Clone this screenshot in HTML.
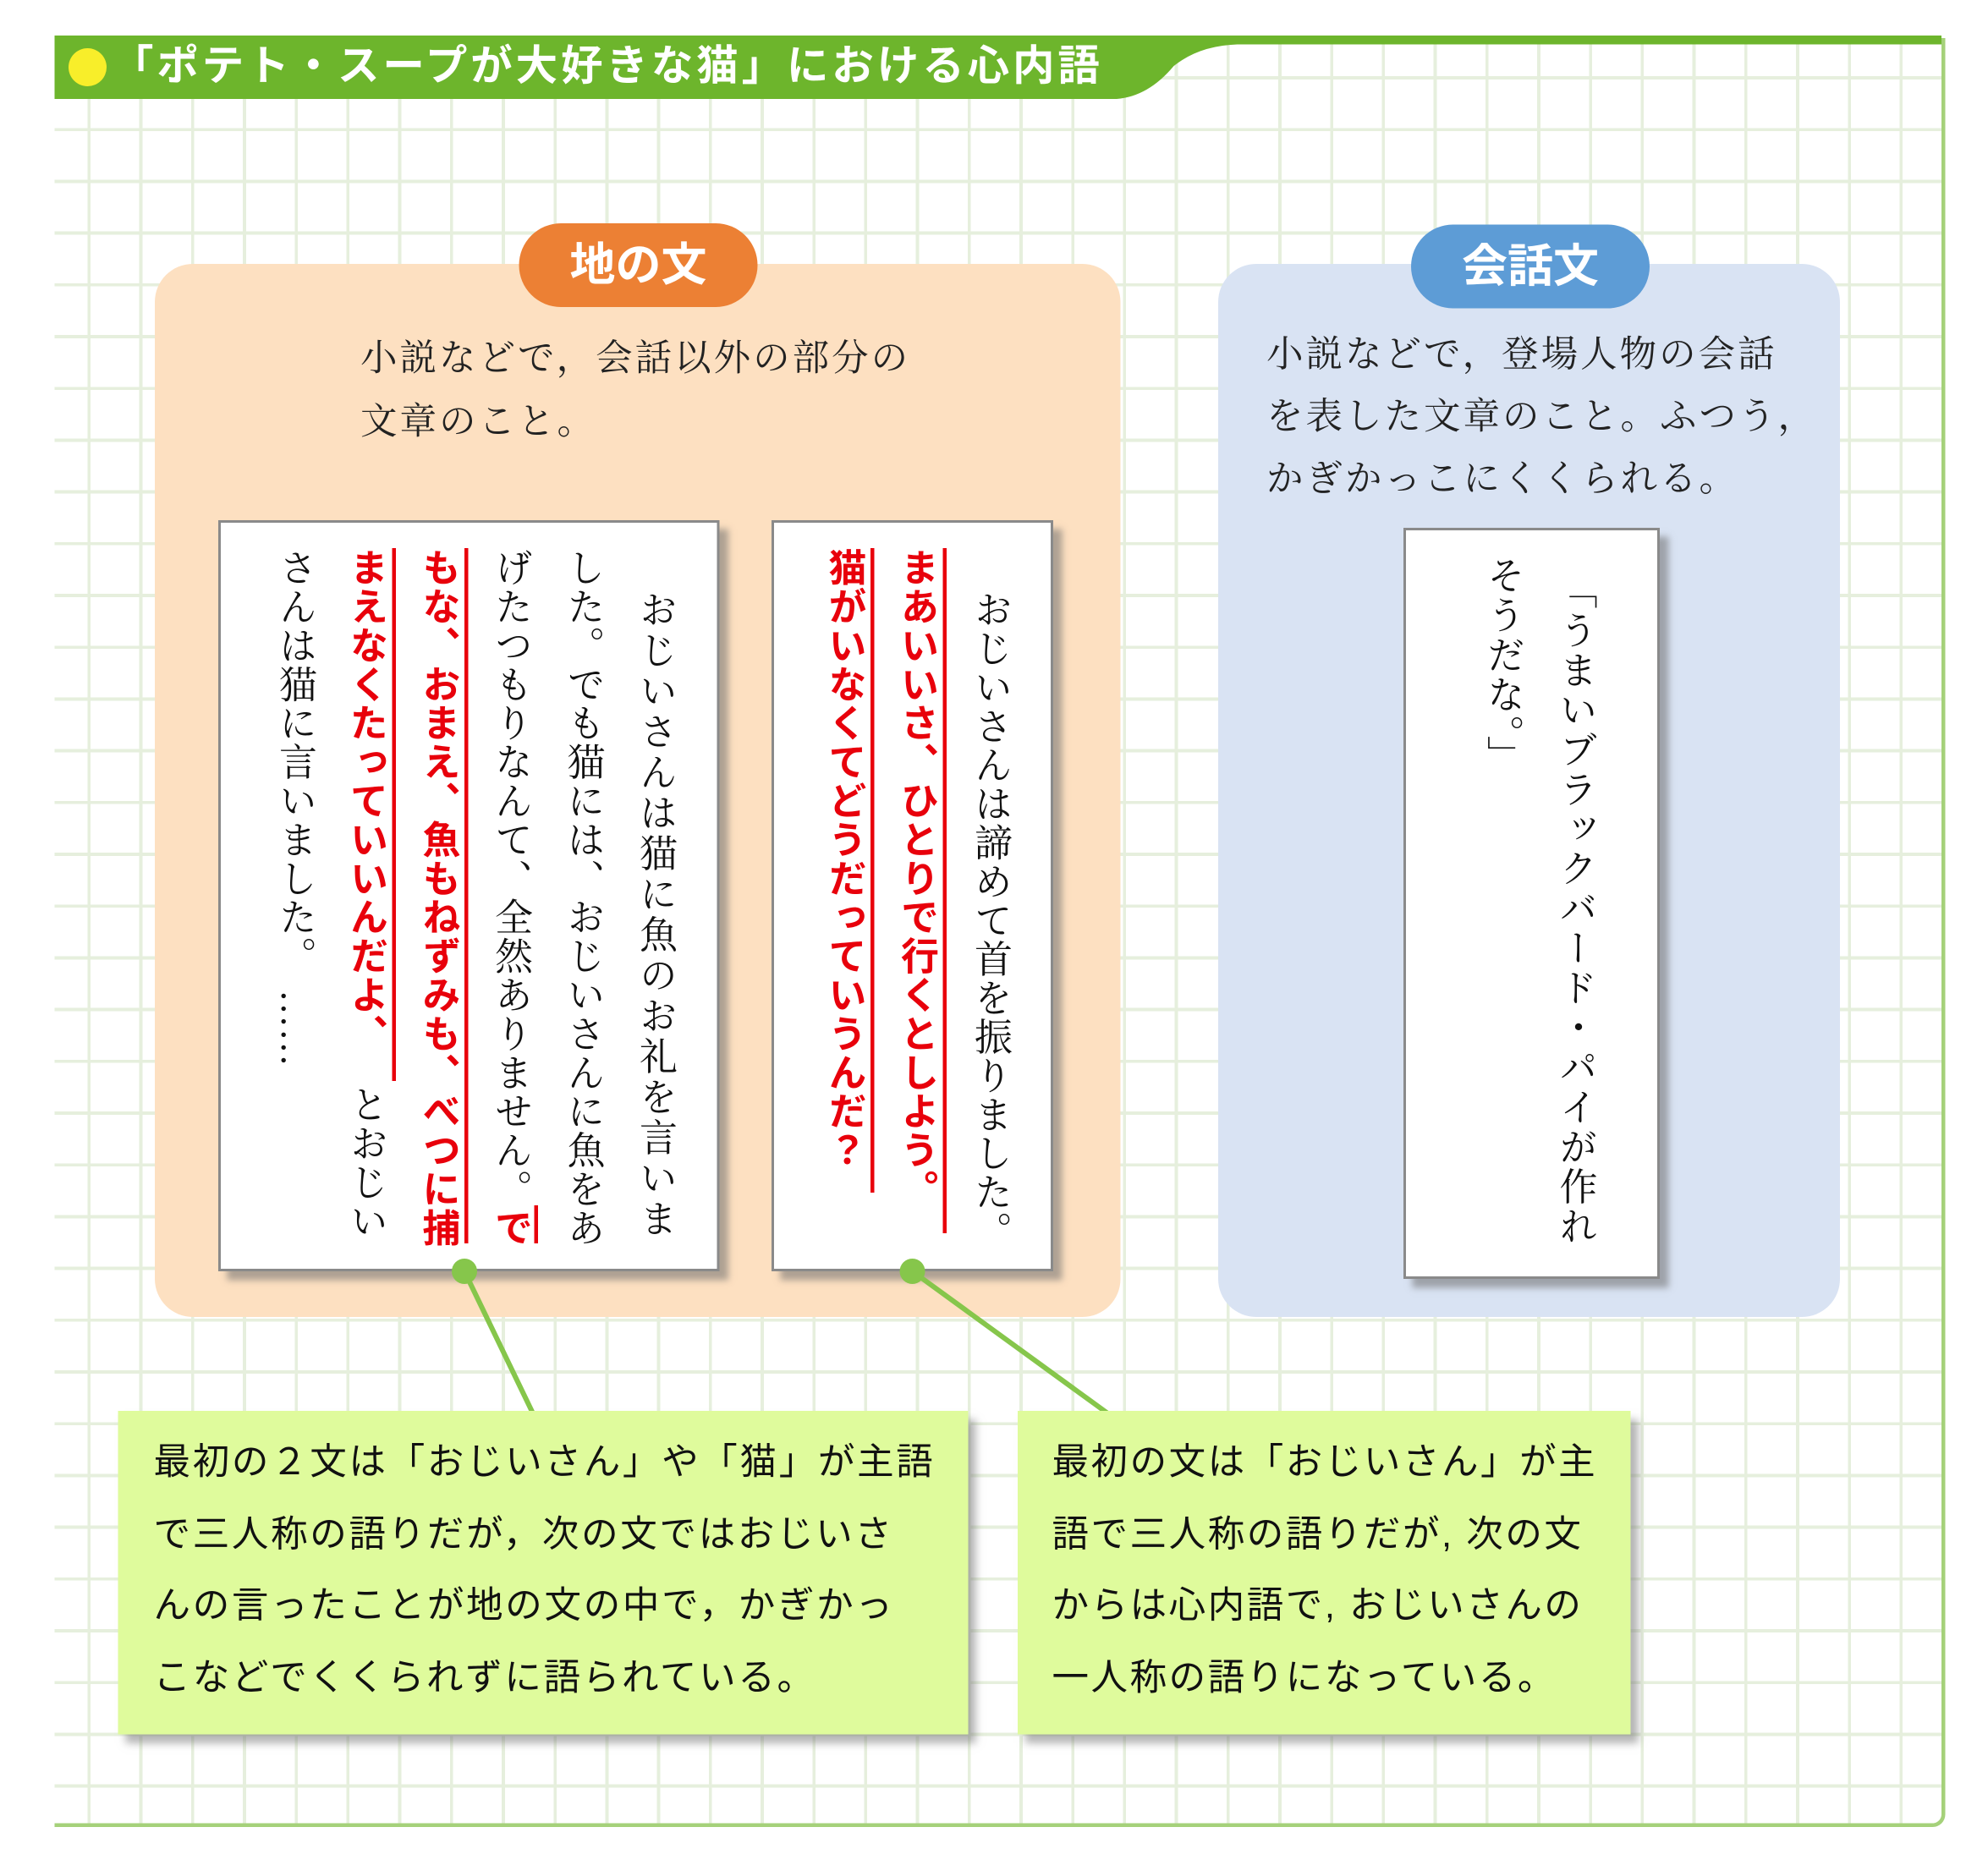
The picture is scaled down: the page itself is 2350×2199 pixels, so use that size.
<!DOCTYPE html>
<html><head><meta charset="utf-8">
<style>
html,body{margin:0;padding:0;background:#fff;}
body{width:2350px;height:2198px;overflow:hidden;position:relative;}
#w{position:absolute;left:0;top:0;width:1567px;height:1466px;transform:scale(1.5);transform-origin:0 0;}
.a{position:absolute;}
.grid{left:43px;top:30px;width:1487px;height:1407px;
background-color:#fff;
background-image:repeating-linear-gradient(90deg,transparent 0,transparent 26px,#e6efdd 26px,#e6efdd 28.5px,transparent 28.5px,transparent 40.8px),
repeating-linear-gradient(0deg,transparent 0,transparent 28px,#e6efdd 28px,#e6efdd 30.5px,transparent 30.5px,transparent 40.8px);
border-right:3px solid #a5d17a;border-bottom:3px solid #a5d17a;border-bottom-right-radius:10px;}
.serif{font-family:"Liberation Serif","Noto Serif CJK SC",serif;}
.sans{font-family:"Liberation Sans","Noto Sans CJK JP",sans-serif;}
.panel{border-radius:30px;}
.pill{color:#fff;font-weight:bold;font-size:36px;text-align:center;line-height:66px;border-radius:33px;}
.desc{font-size:29px;letter-spacing:2px;line-height:50px;color:#222;white-space:nowrap;}
.box{background:#fff;border:2px solid #8a8a8a;box-shadow:7px 7px 5px rgba(110,110,110,.55);}
.col{writing-mode:vertical-rl;font-size:30px;line-height:30px;letter-spacing:0.6px;white-space:nowrap;color:#111;}
.red{color:#e8000b;font-weight:bold;font-family:"Liberation Sans","Noto Sans CJK JP",sans-serif;}
.rl{background:#e8000b;width:2.5px;}
.call{background:#dffb9c;box-shadow:6px 7px 6px rgba(120,120,120,.55);}
.ct{font-size:29px;line-height:56.5px;color:#111;white-space:nowrap;}
</style></head><body><div id="w">
<div class="a grid"></div>
<svg class="a" style="left:0;top:0" width="1567" height="90">
<path d="M43 28 L1530 28 L1530 35 L975 35 Q945 36 925 52 Q905 76 880 78 L43 78 Z" fill="#6db52c"/>
<circle cx="69" cy="53" r="15" fill="#f8ee2a"/>
</svg>
<div class="a sans" style="left:88px;top:30px;color:#fff;font-weight:bold;font-size:33px;line-height:44px;letter-spacing:2.6px;white-space:nowrap;">「ポテト・スープが大好きな猫」における心内語</div>

<div class="a panel" style="left:122px;top:208px;width:761px;height:830px;background:#fde0c1;"></div>
<div class="a pill sans" style="left:409px;top:176px;width:188px;height:66px;background:#ec8034;">地の文</div>
<div class="a desc serif" style="left:284px;top:258px;">小説などで，会話以外の部分の<br>文章のこと。</div>

<div class="a panel" style="left:960px;top:208px;width:490px;height:830px;background:#d9e3f3;"></div>
<div class="a pill sans" style="left:1112px;top:177px;width:188px;height:66px;background:#5d9cd6;">会話文</div>
<div class="a desc serif" style="left:998px;top:256px;line-height:49px;">小説などで，登場人物の会話<br>を表した文章のこと。ふつう，<br>かぎかっこにくくられる。</div>

<!-- box 1 -->
<div class="a box" style="left:172px;top:410px;width:391px;height:588px;"></div>
<div class="a col serif" style="left:500px;top:465px;letter-spacing:2px;">おじいさんは猫に魚のお礼を言いま</div>
<div class="a col serif" style="left:443px;top:432px;">した。でも猫には、おじいさんに魚をあ</div>
<div class="a col serif" style="left:386px;top:432px;">げたつもりなんて、全然ありません。<span class="red">で</span></div>
<div class="a rl" style="left:421px;top:950px;height:30px;"></div>
<div class="a col red" style="left:329px;top:432px;">もな、おまえ、魚もねずみも、べつに捕</div>
<div class="a rl" style="left:366px;top:432px;height:548px;"></div>
<div class="a col red" style="left:272px;top:432px;">まえなくたっていいんだよ、</div>
<div class="a rl" style="left:309px;top:432px;height:420px;"></div>
<div class="a col serif" style="left:272px;top:855px;">とおじい</div>
<div class="a col serif" style="left:216px;top:432px;">さんは猫に言いました。</div>
<div class="a col serif" style="left:216px;top:780px;">……</div>

<!-- box 2 -->
<div class="a box" style="left:608px;top:410px;width:218px;height:588px;"></div>
<div class="a col serif" style="left:764px;top:465px;">おじいさんは諦めて首を振りました。</div>
<div class="a col red" style="left:706px;top:432px;">まあいいさ、ひとりで行くとしよう。</div>
<div class="a rl" style="left:743px;top:432px;height:540px;"></div>
<div class="a col red" style="left:649px;top:432px;">猫がいなくてどうだっていうんだ？</div>
<div class="a rl" style="left:686px;top:432px;height:508px;"></div>

<!-- box 3 -->
<div class="a box" style="left:1106px;top:416px;width:198px;height:588px;"></div>
<div class="a col serif" style="left:1225px;top:450px;letter-spacing:1.3px;">「うまいブラックバード・パイが作れ</div>
<div class="a col serif" style="left:1168px;top:438px;letter-spacing:1.3px;">そうだな。」</div>

<!-- connectors -->
<svg class="a" style="left:0;top:0" width="1567" height="1200">
<line x1="366" y1="1002" x2="420" y2="1114" stroke="#86c64b" stroke-width="4"/>
<line x1="719" y1="1002" x2="873" y2="1114" stroke="#86c64b" stroke-width="4"/>
<circle cx="366" cy="1002" r="10" fill="#86c64b"/>
<circle cx="719" cy="1002" r="10" fill="#86c64b"/>
</svg>

<div class="a call" style="left:93px;top:1112px;width:670px;height:255px;"></div>
<div class="a ct sans" style="left:121px;top:1125px;letter-spacing:1.8px;">最初の２文は「おじいさん」や「猫」が主語<br>で三人称の語りだが，次の文ではおじいさ<br>んの言ったことが地の文の中で，かぎかっ<br>こなどでくくられずに語られている。</div>

<div class="a call" style="left:802px;top:1112px;width:483px;height:255px;"></div>
<div class="a ct sans" style="left:829px;top:1125px;letter-spacing:1.7px;">最初の文は「おじいさん」が主<br>語で三人称の語りだが, 次の文<br>からは心内語で, おじいさんの<br>一人称の語りになっている。</div>
</div></body></html>
